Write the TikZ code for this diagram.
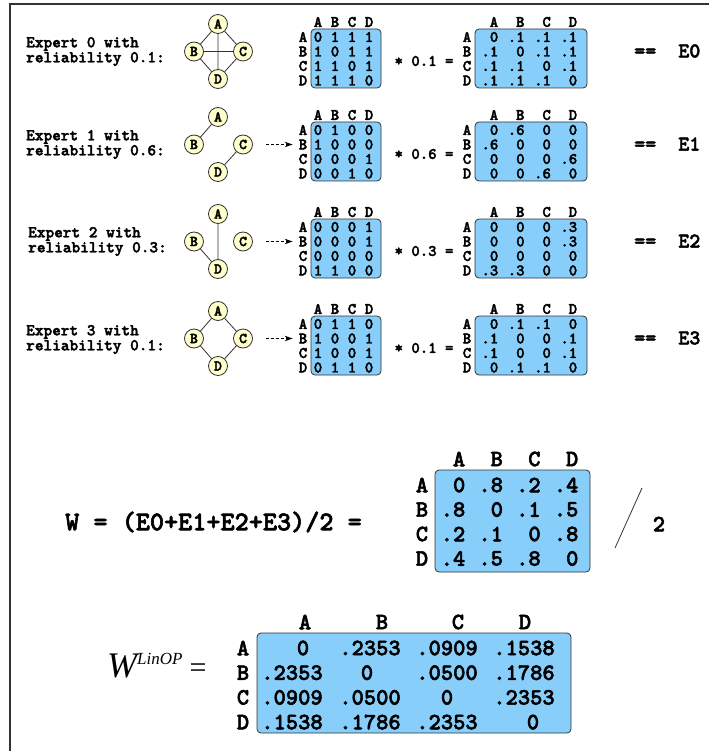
\documentclass[tikz,border=0pt]{standalone}
\usepackage{fontspec}
\newfontfamily\tms{Liberation Serif}
\newfontfamily\tb{lmmonolt10-bold.otf}[FakeBold=2.2]
\usetikzlibrary{arrows.meta}
\definecolor{matfill}{RGB}{135,206,250}
\definecolor{nodefill}{RGB}{255,255,204}
\definecolor{ink}{RGB}{51,51,51}

\tikzset{
  smt/.style={font=\tb\fontsize{16}{16}\selectfont, inner sep=0pt},
  bigt/.style={font=\tb\fontsize{23.4}{23.4}\selectfont, inner sep=0pt},
  mbox/.style={rectangle, rounded corners=4pt, fill=matfill, draw=ink, line width=0.8pt, inner sep=0pt},
  gnode/.style={circle, minimum size=19pt, inner sep=0pt, fill=nodefill, draw=ink, line width=0.8pt,
                font=\tb\fontsize{15}{15}\selectfont},
  gedge/.style={draw=ink, line width=0.8pt},
  darr/.style={draw=black, line width=0.7pt, dash pattern=on 3pt off 2pt,
               -{Stealth[length=8pt,width=5.5pt]}, shorten >=6pt},
  expt/.style={font=\tb\fontsize{16.5}{15}\selectfont, inner sep=0pt, align=left, anchor=west},
  eqt/.style={font=\tb\fontsize{21}{21}\selectfont, inner sep=0pt, anchor=west},
}

% 0/1 adjacency matrix: #1 name prefix, #2 vertical offset, #3 rows
\newcommand\binmat[3]{%
  \node[mbox, minimum width=70pt, minimum height=59pt] (#1box) at (346,#2+58.5) {};
  \foreach \h [count=\c] in {A,B,C,D} {
    \node[smt] (#1h\c) at ({318+17*(\c-1)},#2+22) {\h};
    \node[smt] (#1l\c) at (303,{#2+37+14.5*(\c-1)}) {\h};
  }
  \foreach \rr [count=\i] in {#3} {
    \foreach \v [count=\j] in \rr {
      \node[smt] (#1e\i\j) at ({318+17*(\j-1)},{#2+37+14.5*(\i-1)}) {\v};
    }
  }
}

% weighted matrix: #1 name prefix, #2 vertical offset, #3 rows
\newcommand\wmat[3]{%
  \node[mbox, minimum width=112pt, minimum height=59pt] (#1box) at (531,#2+58.5) {};
  \foreach \h [count=\c] in {A,B,C,D} {
    \node[smt] (#1h\c) at ({494+26.3*(\c-1)},#2+22) {\h};
    \node[smt] (#1l\c) at (467,{#2+37+14.5*(\c-1)}) {\h};
  }
  \foreach \rr [count=\i] in {#3} {
    \foreach \v [count=\j] in \rr {
      \node[smt, anchor=east] (#1e\i\j) at ({498.5+26.3*(\j-1)},{#2+37+14.5*(\i-1)}) {\v};
    }
  }
}

% four graph vertices: #1 name prefix, #2 vertical offset
\newcommand\gverts[2]{%
  \node[gnode] (#1A) at (218,#2+24) {A};
  \node[gnode] (#1B) at (194,#2+51.5) {B};
  \node[gnode] (#1C) at (243,#2+51.5) {C};
  \node[gnode] (#1D) at (218,#2+79) {D};
}

\begin{document}
\begin{tikzpicture}[x=1pt,y=-1pt]
\useasboundingbox (0,0) rectangle (709,751);
\fill[white] (0,0) rectangle (709,751);

% frame
\draw[line width=1.2pt, color=ink] (10,751) -- (10,4) -- (709,4);

% ---- expert 0 ----
\node[expt] (x0) at (26,51.5) {Expert 0 with\\reliability 0.1:};
\gverts{g0}{0}
\draw[gedge] (g0A) -- (g0B) (g0A) -- (g0C) (g0B) -- (g0D) (g0C) -- (g0D)
             (g0B) -- (g0C) (g0A) -- (g0D);
\binmat{m0}{0}{{0,1,1,1},{1,0,1,1},{1,1,0,1},{1,1,1,0}}
\node[smt] (s0) at (424,61) {* 0.1 =};
\wmat{w0}{0}{{0,.1,.1,.1},{.1,0,.1,.1},{.1,.1,0,.1},{.1,.1,.1,0}}
\node[eqt] (e0) at (634,51) {==\ \ E0};

% ---- expert 1 ----
\node[expt] (x1) at (26,144.5) {Expert 1 with\\reliability 0.6:};
\gverts{g1}{93}
\draw[gedge] (g1A) -- (g1B) (g1C) -- (g1D);
\binmat{m1}{93}{{0,1,0,0},{1,0,0,0},{0,0,0,1},{0,0,1,0}}
\coordinate (a1) at (266,144.5);
\draw[darr] (a1) -- (m1l2.west);
\node[smt] (s1) at (424,154) {* 0.6 =};
\wmat{w1}{93}{{0,.6,0,0},{.6,0,0,0},{0,0,0,.6},{0,0,.6,0}}
\node[eqt] (e1) at (634,144) {==\ \ E1};

% ---- expert 2 ----
\node[expt] (x2) at (28,241.5) {Expert 2 with\\reliability 0.3:};
\gverts{g2}{190}
\draw[gedge] (g2A) -- (g2D) (g2B) -- (g2D);
\binmat{m2}{190}{{0,0,0,1},{0,0,0,1},{0,0,0,0},{1,1,0,0}}
\coordinate (a2) at (266,241.5);
\draw[darr] (a2) -- (m2l2.west);
\node[smt] (s2) at (424,251) {* 0.3 =};
\wmat{w2}{190}{{0,0,0,.3},{0,0,0,.3},{0,0,0,0},{.3,.3,0,0}}
\node[eqt] (e2) at (634,241) {==\ \ E2};

% ---- expert 3 ----
\node[expt] (x3) at (26,339.5) {Expert 3 with\\reliability 0.1:};
\gverts{g3}{287}
\draw[gedge] (g3A) -- (g3B) (g3A) -- (g3C) (g3B) -- (g3D) (g3C) -- (g3D);
\binmat{m3}{287}{{0,1,1,0},{1,0,0,1},{1,0,0,1},{0,1,1,0}}
\coordinate (a3) at (266,338.5);
\draw[darr] (a3) -- (m3l2.west);
\node[smt] (s3) at (424,348) {* 0.1 =};
\wmat{w3}{287}{{0,.1,.1,0},{.1,0,0,.1},{.1,0,0,.1},{0,.1,.1,0}}
\node[eqt] (e3) at (634,338) {==\ \ E3};

% ---- combined matrix W ----
\node[inner sep=0pt, anchor=west, font=\tb\fontsize{26.9}{26.9}\selectfont] (wdef) at (65,522)
  {W = (E0+E1+E2+E3)/2 =};
\node[mbox, minimum width=155pt, minimum height=102pt] (wbox) at (512.5,521) {};
\foreach \h [count=\c] in {A,B,C,D} {
  \node[bigt] (wh\c) at ({459+37.7*(\c-1)},459) {\h};
  \node[bigt] (wl\c) at (422,{485+24.5*(\c-1)}) {\h};
}
\foreach \rr [count=\i] in {{0,.8,.2,.4},{.8,0,.1,.5},{.2,.1,0,.8},{.4,.5,.8,0}} {
  \foreach \v [count=\j] in \rr {
    \node[bigt, anchor=east] (we\i\j) at ({465.5+37.7*(\j-1)},{485+24.5*(\i-1)}) {\v};
  }
}
\coordinate (sl1) at (615,548);
\coordinate (sl2) at (642,488);
\draw[line width=0.8pt, color=ink] (sl1) -- (sl2);
\node[bigt] (half) at (659,524) {2};

% ---- normalised matrix W^LinOP ----
\node[inner sep=0pt, anchor=base west] (wlin) at (107,677)
  {\tms\fontsize{36}{36}\selectfont\itshape W\raisebox{13pt}{\fontsize{17}{17}\selectfont LinOP}\upshape\fontsize{30}{30}\selectfont\hspace{7pt}=};
\node[mbox, minimum width=314pt, minimum height=100pt] (lbox) at (414,683) {};
\foreach \h/\hx [count=\c] in {A/305,B/382,C/458,D/525} {
  \node[bigt] (lh\c) at (\hx,622) {\h};
}
\foreach \h [count=\c] in {A,B,C,D} {
  \node[bigt] (ll\c) at (243,{648+24.7*(\c-1)}) {\h};
}
\foreach \v/\vx [count=\k] in {0/303,.2353/370,.0909/447,.1538/524} {
  \node[bigt] (le1\k) at (\vx,648) {\v};
}
\foreach \v/\vx [count=\k] in {.2353/292,0/367,.0500/447,.1786/524} {
  \node[bigt] (le2\k) at (\vx,672.7) {\v};
}
\foreach \v/\vx [count=\k] in {.0909/292,.0500/370,0/447,.2353/524} {
  \node[bigt] (le3\k) at (\vx,697.4) {\v};
}
\foreach \v/\vx [count=\k] in {.1538/292,.1786/370,.2353/447,0/533} {
  \node[bigt] (le4\k) at (\vx,722.1) {\v};
}
\end{tikzpicture}
\end{document}
